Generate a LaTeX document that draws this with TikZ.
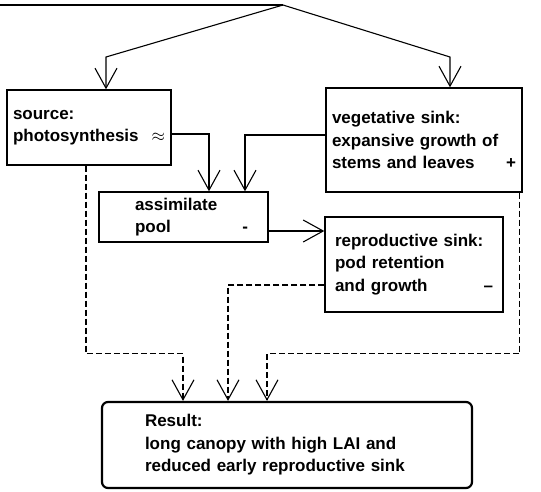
\documentclass[tikz,border=0pt]{standalone}
\usepackage{fontspec}
\setmainfont{Liberation Sans}
\usetikzlibrary{arrows.meta}
\begin{document}
\begin{tikzpicture}[x=1pt,y=-1pt,
  box/.style={draw,line width=1.4pt,align=left,inner ysep=2pt,
    font=\bfseries\fontsize{17}{22.5}\selectfont},
  result/.style={box,line width=2.2pt,rounded corners=6pt},
  arr/.style={line width=1.1pt,-{Straight Barb[length=20pt,width=22pt]}},
  dsh/.style={arr,dash pattern=on 6pt off 3pt}]
\useasboundingbox (0,0) rectangle (541,491);
\node[box,text width=152pt,inner xsep=6pt,minimum height=75pt] (src) at (89,127.5)
  {source:\\photosynthesis\hfill$\approx$};
\node[box,text width=184pt,inner xsep=6pt,minimum height=104pt] (veg) at (424,140)
  {vegetative sink:\\expansive growth of\\stems and leaves\hfill+\hspace*{3pt}};
\node[box,text width=129pt,inner xsep=20pt,minimum height=50pt] (pool) at (183.5,217)
  {\hspace*{16pt}assimilate\\\hspace*{16pt}pool\hfill-};
\node[box,text width=158pt,inner xsep=10pt,minimum height=95pt] (repro) at (414,264.5)
  {reproductive sink:\\pod retention\\and growth\hfill–\hspace*{3pt}};
\node[result,text width=284pt,inner xsep=43pt,minimum height=86pt] (res) at (287,445)
  {Result:\\long canopy with high LAI and\\reduced early reproductive sink};
% genotype input splits to source and vegetative sink
\coordinate (lend) at (0,5);
\coordinate (apex) at (283,5);
\coordinate (kl) at (106,57);
\coordinate (kr) at (450,57);
\draw[line width=1.1pt] (lend) -- (apex);
\draw[arr] (apex) -- (kl) -- (kl |- src.north);
\draw[arr] (apex) -- (kr) -- (kr |- veg.north);
% into and out of the pool
\draw[arr] ([yshift=-6.5pt]src.east) -| ([xshift=25.5pt]pool.north);
\draw[arr] ([yshift=5pt]veg.west) -| ([xshift=61.5pt]pool.north);
\draw[arr] ([yshift=-14pt]pool.east) coordinate (pe) -- (pe -| repro.west);
% contributions to the result
\draw[dsh] ([xshift=-3pt]src.south) |- ([xshift=-104pt,yshift=47pt]res.north)
  -- ([xshift=-104pt]res.north);
\draw[dsh] ([yshift=-20.5pt]repro.west) -| ([xshift=-59pt]res.north);
\draw[dsh] ([xshift=-3pt]veg.south east) |- ([xshift=-20pt,yshift=47pt]res.north)
  -- ([xshift=-20pt]res.north);
\end{tikzpicture}
\end{document}
